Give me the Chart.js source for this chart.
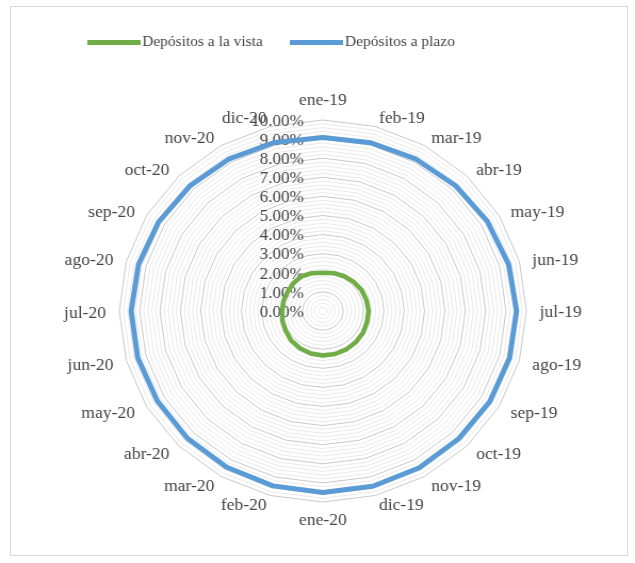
<!DOCTYPE html>
<html>
<head>
<meta charset="utf-8">
<script src="https://cdn.jsdelivr.net/npm/chart.js@4/dist/chart.umd.min.js"></script>
<style>
  html, body { margin: 0; padding: 0; background: #fff; }
  body { width: 635px; height: 563px; position: relative; overflow: hidden; }
  #frame { position: absolute; left: 10px; top: 6px; width: 618px; height: 550px; border: 1px solid #d9d9d9; box-sizing: border-box; }
  #wrap { position: absolute; left: 0; top: 0; width: 596px; height: 563px; transform: scaleX(1.0654); transform-origin: 0 0; }
</style>
</head>
<body>
<div id="frame"></div>
<div id="wrap"><canvas id="c"></canvas></div>
<script>
// Months on the radial axis
const months = ['ene-19','feb-19','mar-19','abr-19','may-19','jun-19','jul-19','ago-19','sep-19','oct-19','nov-19','dic-19',
                'ene-20','feb-20','mar-20','abr-20','may-20','jun-20','jul-20','ago-20','sep-20','oct-20','nov-20','dic-20'];

// Rates, in percent
const vista = [2.00, 2.05, 2.10, 2.15, 2.20, 2.22, 2.25, 2.25, 2.28, 2.30, 2.32, 2.33,
               2.33, 2.30, 2.25, 2.20, 2.10, 2.05, 2.00, 2.00, 2.00, 2.05, 2.10, 2.05];
const plazo = [9.08, 9.12, 9.18, 9.25, 9.35, 9.45, 9.52, 9.50, 9.48, 9.45, 9.48, 9.50,
               9.50, 9.48, 9.45, 9.42, 9.40, 9.42, 9.42, 9.38, 9.32, 9.25, 9.20, 9.14];

// Labelled values of the radial axis
const tickValues = [0, 1, 2, 3, 4, 5, 6, 7, 8, 9, 10];
const tickLabels = ['0.00%','1.00%','2.00%','3.00%','4.00%','5.00%','6.00%','7.00%','8.00%','9.00%','10.00%'];

const seriesNames = ['Depósitos a la vista', 'Depósitos a plazo'];
const seriesColors = ['#70AD47', '#5B9BD5'];

const SERIF = '"Liberation Serif", "Times New Roman", serif';
const TEXT = '#454545';

// Short thick bar used as the legend key
function legendLine(color) {
  const c = document.createElement('canvas');
  c.width = 50; c.height = 5;
  const g = c.getContext('2d');
  g.fillStyle = color;
  g.fillRect(0, 0, 50, 5);
  return c;
}
const legendKeys = seriesColors.map(legendLine);

// Puts the legend row at its place above the plot
const legendPlacement = {
  id: 'legendPlacement',
  afterLayout(chart) {
    const lg = chart.legend;
    const pad = lg.options.labels.padding;
    const dx = 87.2 - (lg.left + pad);
    const dy = (42 - 7.25) - (lg.top + pad);
    lg.left += dx; lg.right += dx;
    lg.top += dy; lg.bottom += dy;
  }
};

// Percent labels to the left of the vertical axis, month names around the web
const radialText = {
  id: 'radialText',
  beforeDatasetsDraw(chart) {
    const s = chart.scales.r;
    const ctx = chart.ctx;
    ctx.save();
    ctx.fillStyle = TEXT;
    ctx.textBaseline = 'middle';

    ctx.font = '16px ' + SERIF;
    ctx.textAlign = 'right';
    tickValues.forEach((v, i) => {
      const d = s.getDistanceFromCenterForValue(v);
      ctx.fillText(tickLabels[i], s.xCenter - 18, s.yCenter - d + 1.5);
    });

    ctx.font = '16.5px ' + SERIF;
    const n = chart.data.labels.length;
    chart.data.labels.forEach((lab, i) => {
      const ang = i * 2 * Math.PI / n;
      const sin = Math.sin(ang), cos = Math.cos(ang);
      let x = s.getPointPosition(i, s.drawingArea + 12.5).x;
      let y = s.getPointPosition(i, s.drawingArea + 9).y;
      if (Math.abs(sin) < 1e-6) {
        ctx.textAlign = 'center';
        y += cos > 0 ? -10 : 10;
      } else {
        ctx.textAlign = sin > 0 ? 'left' : 'right';
        y += 2 * Math.abs(sin) + (cos < 0 ? 1 : 0);
      }
      ctx.fillText(lab, x, y);
    });
    ctx.restore();
  }
};

const isMajor = v => Math.abs(v - Math.round(v)) < 1e-6;

new Chart(document.getElementById('c'), {
  type: 'radar',
  data: {
    labels: months,
    datasets: [
      { label: seriesNames[0], data: vista, borderColor: seriesColors[0], backgroundColor: seriesColors[0], borderWidth: 4.5 },
      { label: seriesNames[1], data: plazo, borderColor: seriesColors[1], backgroundColor: seriesColors[1], borderWidth: 5 }
    ]
  },
  options: {
    responsive: true,
    maintainAspectRatio: false,
    animation: false,
    events: [],
    layout: { padding: { top: 64.5, bottom: 60, left: 59, right: 48 } },
    elements: {
      line: { tension: 0, fill: false, borderJoinStyle: 'round' },
      point: { radius: 0, hoverRadius: 0 }
    },
    plugins: {
      tooltip: { enabled: false },
      legend: {
        position: 'top',
        align: 'start',
        labels: {
          usePointStyle: true,
          pointStyleWidth: 39,
          boxHeight: 14.5,
          padding: 31,
          color: TEXT,
          font: { family: SERIF, size: 14.5 },
          generateLabels(chart) {
            const items = Chart.defaults.plugins.legend.labels.generateLabels(chart);
            items.forEach((it, i) => { it.pointStyle = legendKeys[i]; });
            return items;
          }
        }
      }
    },
    scales: {
      r: {
        min: 0,
        max: 10,
        beginAtZero: true,
        angleLines: { display: false },
        grid: {
          circular: false,
          lineWidth: 1,
          color: c => isMajor(c.tick.value) ? '#c8c8c8' : '#e9e9e9'
        },
        ticks: { display: false, stepSize: 0.2 },
        pointLabels: { display: false }
      }
    }
  },
  plugins: [legendPlacement, radialText]
});
</script>
</body>
</html>
